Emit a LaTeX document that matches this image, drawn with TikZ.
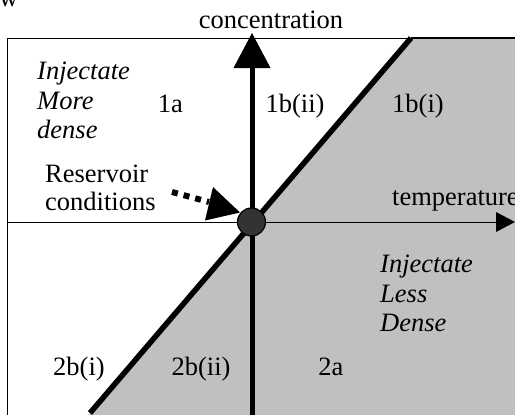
\documentclass[tikz,border=0pt]{standalone}
\usepackage{fontspec}
\setmainfont{Liberation Serif}
\begin{document}
\begin{tikzpicture}[x=1pt,y=-1pt,
  lbl/.style={font=\fontsize{26.5}{30}\selectfont, inner sep=0pt, anchor=base west},
  ilbl/.style={lbl, font=\fontsize{26.5}{30}\selectfont\itshape},
  clbl/.style={font=\fontsize{26.5}{30}\selectfont, inner sep=0pt, anchor=base}]
\useasboundingbox (0,0) rectangle (515,415);
\begin{scope}
\clip (0,0) rectangle (515,415);
% coordinates
\coordinate (dtop) at (411,38);
\coordinate (dbot) at (90,413);
\coordinate (ctr) at (251.5,222);
% gray region right of diagonal
\fill[fill={rgb,255:red,192;green,192;blue,192}] (dtop) -- (520,38) -- (520,420) -- (84,420) -- cycle;
% frame
\draw[line width=1pt] (7,420) -- (7,38) -- (520,38);
\draw[line width=1.4pt] (411,37.3) -- (520,37.3);
% horizontal axis
\coordinate (hstart) at (7,222);
\coordinate (hbase) at (497,222);
\coordinate (htip) at (515,222);
\draw[line width=1pt] (hstart) -- (hbase);
\fill (htip) -- (496,212) -- (496,232) -- cycle;
% vertical axis
\coordinate (vstart) at (252,420);
\coordinate (vbase) at (252,66);
\coordinate (vtip) at (252,33);
\draw[line width=5pt] (vstart) -- (vbase);
\fill (vtip) -- (233.5,68) -- (270.5,68) -- cycle;
% diagonal
\draw[line width=5.5pt] (dbot) -- (dtop);
% dotted arrow
\coordinate (dstart) at (172,192);
\coordinate (dend) at (209,202);
\draw[line width=6pt, dash pattern=on 6pt off 6pt] (dstart) -- (dend);
\fill (240,212.5) -- (213,187) -- (205,220.5) -- cycle;
% circle
\node[circle, draw, line width=1.2pt, fill={rgb,255:red,51;green,51;blue,51}, minimum size=28pt, inner sep=0pt] (pt) at (ctr) {};
% texts
\node[lbl] (cut) at (-1,6) {w};
\node[clbl] (conc) at (271,28) {concentration};
\node[lbl] (temp) at (392,205) {temperature};
\node[ilbl] (im1) at (37,79) {Injectate};
\node[ilbl] (im2) at (37,109) {More};
\node[ilbl] (im3) at (37,138) {dense};
\node[clbl] (r1a) at (170.5,112) {1a};
\node[clbl] (r1bii) at (295,112) {1b(ii)};
\node[clbl] (r1bi) at (418,112) {1b(i)};
\node[lbl] (res1) at (45,182) {Reservoir};
\node[lbl] (res2) at (45,210) {conditions};
\node[ilbl] (il1) at (380,272) {Injectate};
\node[ilbl] (il2) at (380,302) {Less};
\node[ilbl] (il3) at (380,331) {Dense};
\node[clbl] (r2bi) at (79,375) {2b(i)};
\node[clbl] (r2bii) at (201,375) {2b(ii)};
\node[clbl] (r2a) at (331,375) {2a};
\end{scope}
\end{tikzpicture}
\end{document}
